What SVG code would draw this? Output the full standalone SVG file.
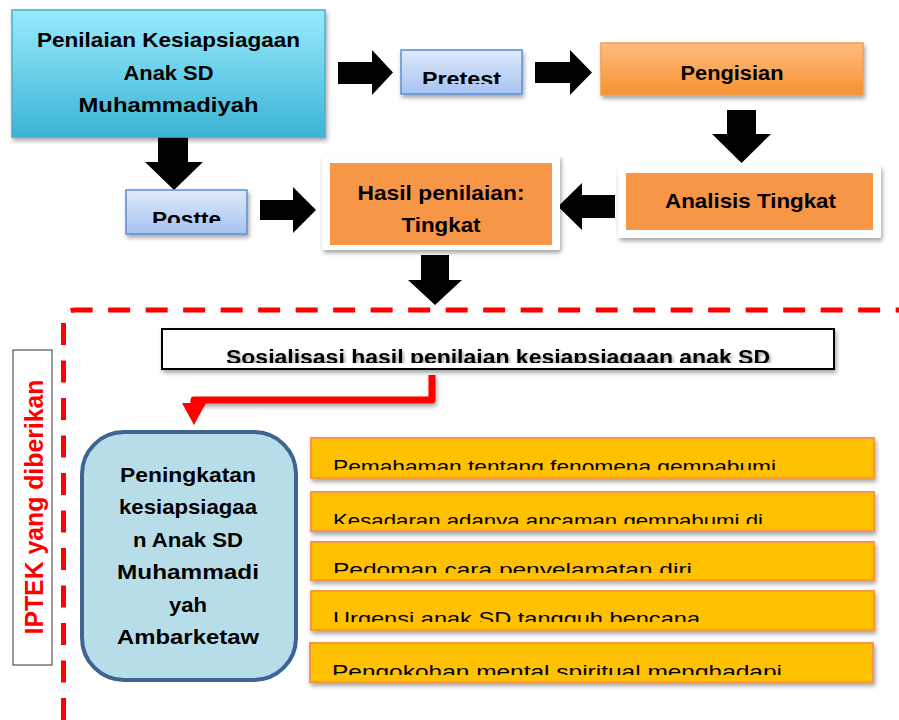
<svg xmlns="http://www.w3.org/2000/svg" width="899" height="720" viewBox="0 0 899 720">
<defs>
<linearGradient id="gCyan" x1="0" y1="0" x2="0" y2="1"><stop offset="0" stop-color="#97ecfd"/><stop offset="1" stop-color="#3cb3d4"/></linearGradient>
<linearGradient id="gBlue" x1="0" y1="0" x2="0" y2="1"><stop offset="0" stop-color="#e0eafc"/><stop offset="1" stop-color="#a5c2f0"/></linearGradient>
<linearGradient id="gOrange" x1="0" y1="0" x2="0" y2="1"><stop offset="0" stop-color="#ffbc80"/><stop offset="1" stop-color="#f79230"/></linearGradient>
<filter id="sh" x="-10%" y="-20%" width="120%" height="150%"><feDropShadow dx="1.5" dy="3" stdDeviation="2" flood-color="#000" flood-opacity="0.35"/></filter>
<filter id="tsh" x="-5%" y="-30%" width="110%" height="180%"><feDropShadow dx="1.5" dy="2.5" stdDeviation="1.5" flood-color="#000" flood-opacity="0.4"/></filter>
<clipPath id="cPre"><rect x="401" y="50" width="121" height="34"/></clipPath>
<clipPath id="cPost"><rect x="126" y="190" width="121" height="33"/></clipPath>
<clipPath id="cSos"><rect x="162" y="329" width="672" height="34"/></clipPath>
<clipPath id="cY1"><rect x="311" y="438" width="563" height="32"/></clipPath>
<clipPath id="cY2"><rect x="311" y="492" width="563" height="32"/></clipPath>
<clipPath id="cY3"><rect x="311" y="542" width="563" height="31"/></clipPath>
<clipPath id="cY4"><rect x="311" y="591" width="563" height="31"/></clipPath>
<clipPath id="cY5"><rect x="311" y="643" width="563" height="32"/></clipPath>
</defs>
<style>
text{font-family:"Liberation Sans",Arial,sans-serif;fill:#000}
.b{font-weight:bold}
.arrow{fill:#000}
.yel{fill:#ffc000;stroke:#f79646;stroke-width:2}
.yt{font-size:19px}
</style>
<rect width="899" height="720" fill="#fff"/>

<g id="connectors">
<polygon class="arrow" points="338,62 372,62 372,50 393,72.5 372,95 372,84 338,84"/>
<polygon class="arrow" points="535,62 570,62 570,50 592,72.5 570,95 570,83 535,83"/>
<polygon class="arrow" points="727,110 756,110 756,134 771,134 741.5,163 712,134 727,134"/>
<polygon class="arrow" points="615,195 582,195 582,183 558,206.5 582,230 582,218 615,218"/>
<polygon class="arrow" points="158,137 188,137 188,162 203,162 174,190 145,162 158,162"/>
<polygon class="arrow" points="260,200 293,200 293,187 316,210 293,233 293,220 260,220"/>
<polygon class="arrow" points="421,255 449,255 449,280 462,280 435,305 408,280 421,280"/>
<path d="M432 375 V400 H194 V405" fill="none" stroke="#ff0000" stroke-width="7" stroke-linejoin="round" filter="url(#sh)"/>
<polygon points="182,403 206,403 194,425" fill="#ff0000"/>
</g>

<g id="frame">
<path d="M63.5 720 V322 Q63.5 310 75.5 310 H899" fill="none" stroke="#ff0000" stroke-width="5" stroke-dasharray="22 15.5"/>
</g>

<g id="node-penilaian">
<rect x="12" y="10" width="313" height="127" fill="url(#gCyan)" stroke="#4aafcd" stroke-width="1.5" filter="url(#sh)"/>
<text class="b" x="168.5" y="47" font-size="21" text-anchor="middle" textLength="263" lengthAdjust="spacingAndGlyphs">Penilaian Kesiapsiagaan</text>
<text class="b" x="168.5" y="80" font-size="21" text-anchor="middle" textLength="90" lengthAdjust="spacingAndGlyphs">Anak SD</text>
<text class="b" x="168.5" y="112" font-size="21" text-anchor="middle" textLength="180" lengthAdjust="spacingAndGlyphs">Muhammadiyah</text>
</g>

<g id="node-pretest">
<rect x="401" y="50" width="121" height="44" fill="url(#gBlue)" stroke="#5b8ed6" stroke-width="1.5" filter="url(#sh)"/>
<text class="b" x="461.5" y="86" font-size="20" text-anchor="middle" textLength="79" lengthAdjust="spacingAndGlyphs" clip-path="url(#cPre)">Pretest</text>
</g>

<g id="node-pengisian">
<rect x="601" y="43" width="262" height="52" fill="url(#gOrange)" stroke="#f59a4a" stroke-width="1.5" filter="url(#sh)"/>
<text class="b" x="732" y="80" font-size="20" text-anchor="middle" textLength="103" lengthAdjust="spacingAndGlyphs">Pengisian</text>
</g>

<g id="node-analisis">
<rect x="618" y="165" width="263" height="73" rx="3" fill="#fff" filter="url(#sh)"/>
<rect x="626" y="173" width="247" height="57" fill="#f79646"/>
<text class="b" x="750.5" y="208" font-size="21" text-anchor="middle" textLength="171" lengthAdjust="spacingAndGlyphs">Analisis Tingkat</text>
</g>

<g id="node-hasil">
<rect x="322" y="155" width="238" height="95" rx="3" fill="#fff" filter="url(#sh)"/>
<rect x="330" y="163" width="222" height="82" fill="#f79646"/>
<text class="b" x="441" y="200" font-size="21" text-anchor="middle" textLength="167" lengthAdjust="spacingAndGlyphs">Hasil penilaian:</text>
<text class="b" x="441" y="232" font-size="21" text-anchor="middle" textLength="79" lengthAdjust="spacingAndGlyphs">Tingkat</text>
</g>

<g id="node-postte">
<rect x="126" y="190" width="121" height="44" fill="url(#gBlue)" stroke="#5b8ed6" stroke-width="1.5" filter="url(#sh)"/>
<text class="b" x="186.5" y="226" font-size="20" text-anchor="middle" textLength="69" lengthAdjust="spacingAndGlyphs" clip-path="url(#cPost)">Postte</text>
</g>

<g id="node-iptek">
<rect x="13" y="350" width="39" height="315" fill="#fff" stroke="#333" stroke-width="1"/>
<text class="b" transform="translate(42.5,507) rotate(-90)" font-size="25" text-anchor="middle" textLength="255" lengthAdjust="spacingAndGlyphs" style="fill:#ff0000">IPTEK yang diberikan</text>
</g>

<g id="node-sosialisasi">
<rect x="162" y="329" width="672" height="40" fill="#fff" stroke="#000" stroke-width="2" filter="url(#sh)"/>
<g clip-path="url(#cSos)">
<text class="b" x="498" y="364" font-size="20" text-anchor="middle" textLength="544" lengthAdjust="spacingAndGlyphs" filter="url(#tsh)">Sosialisasi hasil penilaian kesiapsiagaan anak SD</text>
</g>
</g>

<g id="node-peningkatan">
<rect x="82" y="432" width="214" height="248" rx="42" fill="#b7dde8" stroke="#3e6494" stroke-width="4"/>
<text class="b" x="188" y="482" font-size="21" text-anchor="middle" textLength="136" lengthAdjust="spacingAndGlyphs">Peningkatan</text>
<text class="b" x="188" y="514" font-size="21" text-anchor="middle" textLength="138" lengthAdjust="spacingAndGlyphs">kesiapsiagaa</text>
<text class="b" x="188" y="547" font-size="21" text-anchor="middle" textLength="110" lengthAdjust="spacingAndGlyphs">n Anak SD</text>
<text class="b" x="188" y="579" font-size="21" text-anchor="middle" textLength="142" lengthAdjust="spacingAndGlyphs">Muhammadi</text>
<text class="b" x="188" y="612" font-size="21" text-anchor="middle" textLength="38" lengthAdjust="spacingAndGlyphs">yah</text>
<text class="b" x="188" y="644" font-size="21" text-anchor="middle" textLength="142" lengthAdjust="spacingAndGlyphs">Ambarketaw</text>
</g>

<g id="node-item1">
<rect class="yel" x="311" y="438" width="563" height="40" filter="url(#sh)"/>
<text class="yt" x="333" y="473" textLength="443" lengthAdjust="spacingAndGlyphs" clip-path="url(#cY1)">Pemahaman tentang fenomena gempabumi</text>
</g>
<g id="node-item2">
<rect class="yel" x="311" y="492" width="563" height="39" filter="url(#sh)"/>
<text class="yt" x="333" y="527" textLength="430" lengthAdjust="spacingAndGlyphs" clip-path="url(#cY2)">Kesadaran adanya ancaman gempabumi di</text>
</g>
<g id="node-item3">
<rect class="yel" x="311" y="542" width="563" height="38" filter="url(#sh)"/>
<text class="yt" x="333" y="576" textLength="359" lengthAdjust="spacingAndGlyphs" clip-path="url(#cY3)">Pedoman cara penyelamatan diri</text>
</g>
<g id="node-item4">
<rect class="yel" x="311" y="591" width="563" height="39" filter="url(#sh)"/>
<text class="yt" x="333" y="625" textLength="367" lengthAdjust="spacingAndGlyphs" clip-path="url(#cY4)">Urgensi anak SD tangguh bencana</text>
</g>
<g id="node-item5">
<rect class="yel" x="310" y="643" width="563" height="39" filter="url(#sh)"/>
<text class="yt" x="332" y="678" textLength="450" lengthAdjust="spacingAndGlyphs" clip-path="url(#cY5)">Pengokohan mental spiritual menghadapi</text>
</g>
</svg>
